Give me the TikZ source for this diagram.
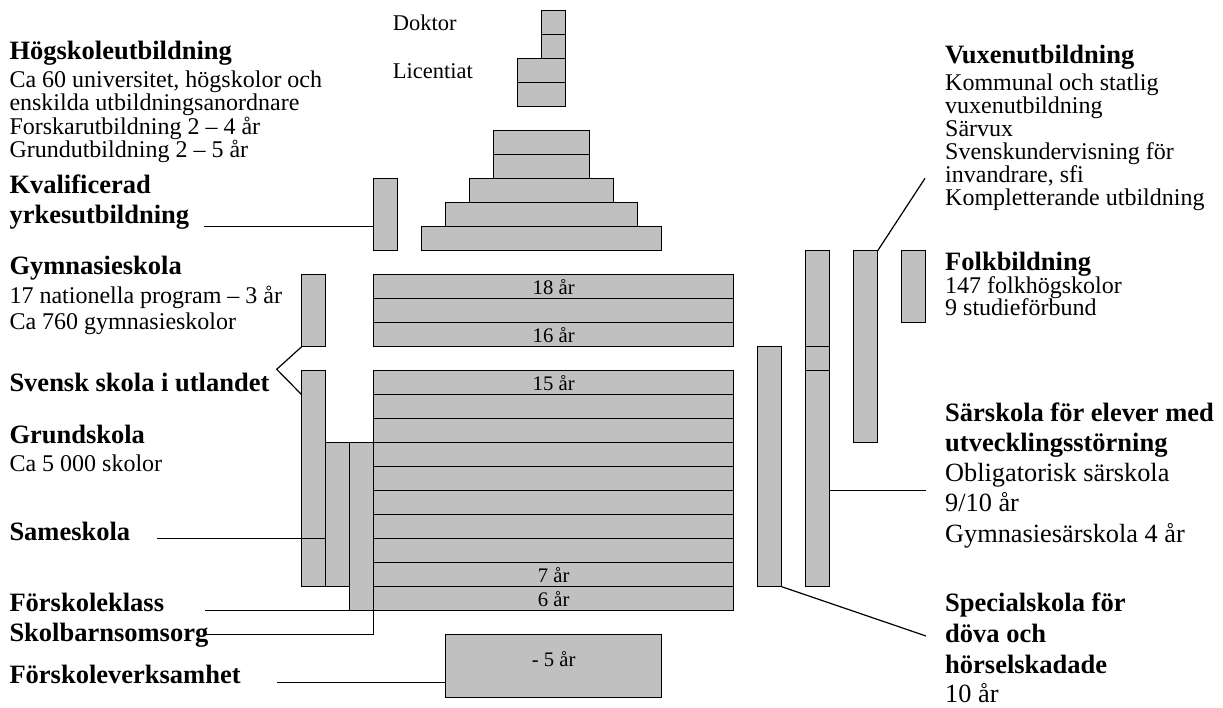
\documentclass[tikz,border=0pt]{standalone}
\usepackage{fontspec}
\setmainfont{Liberation Serif}
\usetikzlibrary{calc}
\definecolor{boxgray}{HTML}{C0C0C0}
\tikzset{
  blk/.style={draw, fill=boxgray, line width=1.2pt, inner sep=0pt, outer sep=0pt, anchor=north west},
  con/.style={line width=1.2pt},
  hd/.style={anchor=base west, inner sep=0pt, align=left, font=\fontsize{26.5}{30.5}\selectfont\bfseries},
  bd/.style={anchor=base west, inner sep=0pt, align=left, font=\fontsize{24}{23.5}\selectfont},
  lbl/.style={font=\fontsize{20.7}{22}\selectfont},
}
\newcommand\Blk[6]{%
  \pgfmathsetmacro\bw{#4-#2}\pgfmathsetmacro\bh{#5-#3}%
  \node[blk, lbl, minimum width=\bw pt, minimum height=\bh pt] (#1) at (#2,#3) {#6};}
\begin{document}
\begin{tikzpicture}[x=1pt,y=-1pt]
\useasboundingbox (0,0) rectangle (1223,708);
% research
\Blk{dok1}{541.7}{10.7}{565.7}{34.7}{}
\Blk{dok2}{541.7}{34.7}{565.7}{58.7}{}
\Blk{lic1}{517.7}{58.7}{565.7}{82.7}{}
\Blk{lic2}{517.7}{82.7}{565.7}{106.7}{}
% undergraduate pyramid
\Blk{pyr1}{493.7}{130.7}{589.7}{154.7}{}
\Blk{pyr2}{493.7}{154.7}{589.7}{178.7}{}
\Blk{pyr3}{469.7}{178.7}{613.7}{202.7}{}
\Blk{pyr4}{445.7}{202.7}{637.7}{226.7}{}
\Blk{pyr5}{421.7}{226.7}{661.7}{250.7}{}
\Blk{kval}{373.7}{178.7}{397.7}{250.7}{}
% upper secondary
\Blk{gymside}{301.7}{274.7}{325.7}{346.7}{}
\Blk{gy0}{373.7}{274.7}{733.7}{298.7}{18 år}
\Blk{gy1}{373.7}{298.7}{733.7}{322.7}{}
\Blk{gy2}{373.7}{322.7}{733.7}{346.7}{16 år}
% compulsory
\foreach \i/\t in {0/15 år,1/,2/,3/,4/,5/,6/,7/,8/7 år,9/6 år}{
  \pgfmathsetmacro\ya{370.7+24*\i}\pgfmathsetmacro\yb{394.7+24*\i}
  \Blk{g\i}{373.7}{\ya}{733.7}{\yb}{\t}
}
\Blk{utl}{301.7}{370.7}{325.7}{586.7}{}
\Blk{same}{325.7}{442.7}{349.7}{586.7}{}
\Blk{fk}{349.7}{442.7}{373.7}{610.7}{}
\Blk{f5}{445.7}{634.7}{661.7}{697.3}{}
\node[lbl, anchor=base, inner sep=0pt] (f5t) at (553.7,666.7) {- 5 år};
% right columns
\Blk{spec}{757.7}{346.7}{781.7}{586.7}{}
\Blk{sar1}{805.7}{250.7}{829.7}{346.7}{}
\Blk{sar2}{805.7}{346.7}{829.7}{370.7}{}
\Blk{sar3}{805.7}{370.7}{829.7}{586.7}{}
\Blk{vux}{853.7}{250.7}{877.7}{442.7}{}
\Blk{folk}{901.7}{250.7}{925.7}{322.7}{}
% connectors
\coordinate (kvL) at (204,226.7);
\draw[con] (kvL) -- (kvL -| kval.west);
\coordinate (svA) at (276.7,369.3);
\draw[con] (gymside.south west) -- (svA) -- ($(utl.north west)+(0,24)$);
\coordinate (saL) at (156.7,538.7);
\draw[con] (saL) -- (saL -| same.west);
\coordinate (fkL) at (205,610.7);
\draw[con] (fkL) -- (fk.south east);
\coordinate (sbL) at (206,634.7);
\draw[con] (sbL) -- (sbL -| fk.south east) -- (fk.south east);
\coordinate (fvL) at (276.7,682.3);
\draw[con] (fvL) -- (fvL -| f5.west);
\coordinate (vuE) at (925,178.3);
\draw[con] (vux.north east) -- (vuE);
\coordinate (srE) at (926,490.7);
\draw[con] (srE -| sar3.east) -- (srE);
\coordinate (spE) at (926,636);
\draw[con] (spec.south east) -- (spE);
% texts (multi-line nodes are anchored at the baseline of their last line)
\node[anchor=base west, inner sep=0pt, font=\fontsize{22.5}{24}\selectfont] (doktor) at (392.7,30.7) {Doktor};
\node[anchor=base west, inner sep=0pt, font=\fontsize{22.5}{24}\selectfont] (licent) at (392.7,79) {Licentiat};
\node[hd] (hsH) at (9.3,59.3) {Högskoleutbildning};
\node[bd] (hsB) at (9.3,157.8) {Ca 60 universitet, högskolor och\\enskilda utbildningsanordnare\\Forskarutbildning 2 – 4 år\\Grundutbildning 2 – 5 år};
\node[hd] (kyH) at (9.3,223.8) {Kvalificerad\\yrkesutbildning};
\node[hd] (gyH) at (9.3,275) {Gymnasieskola};
\node[bd, font=\fontsize{24}{26.7}\selectfont] (gyB) at (9.3,330) {17 nationella program – 3 år\\Ca 760 gymnasieskolor};
\node[hd] (svH) at (9.3,391.7) {Svensk skola i utlandet};
\node[hd] (grH) at (9.3,443.3) {Grundskola};
\node[bd] (grB) at (9.3,471.7) {Ca 5 000 skolor};
\node[hd] (saH) at (9.3,540) {Sameskola};
\node[hd, font=\fontsize{26.5}{30}\selectfont\bfseries] (fkH) at (9.3,641.7) {Förskoleklass\\Skolbarnsomsorg};
\node[hd] (fvH) at (9.3,683.3) {Förskoleverksamhet};
\node[hd] (vuH) at (945,63.3) {Vuxenutbildning};
\node[bd, font=\fontsize{24}{22.9}\selectfont] (vuB) at (945,205.5) {Kommunal och statlig\\vuxenutbildning\\Särvux\\Svenskundervisning för\\invandrare, sfi\\Kompletterande utbildning};
\node[hd] (foH) at (945,270.7) {Folkbildning};
\node[bd, font=\fontsize{24}{22.5}\selectfont] (foB) at (945,315.8) {147 folkhögskolor\\9 studieförbund};
\node[hd, font=\fontsize{26.5}{30}\selectfont\bfseries] (srH) at (945,451.7) {Särskola för elever med\\utvecklingsstörning};
\node[bd, font=\fontsize{26.3}{30.2}\selectfont] (srB) at (945,542.1) {Obligatorisk särskola\\9/10 år\\Gymnasiesärskola 4 år};
\node[hd, font=\fontsize{26.5}{31}\selectfont\bfseries] (spH) at (945,673.7) {Specialskola för\\döva och\\hörselskadade};
\node[bd, font=\fontsize{26.3}{30}\selectfont] (spB) at (945,702.3) {10 år};
\end{tikzpicture}
\end{document}
